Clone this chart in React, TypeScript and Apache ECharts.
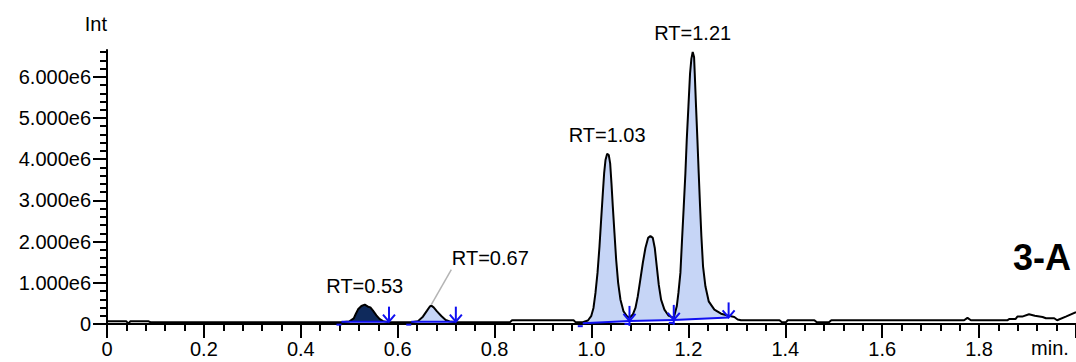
import React, { useEffect, useRef } from "react";
import * as echarts from "echarts";

// Intensity values are in units of 1e6 counts; time in minutes.
const traceLead: [number, number][] = [
  [0.0, 0.065], [0.04, 0.065], [0.044, 0.01], [0.048, 0.065], [0.086, 0.065], [0.09, 0.04], [0.3, 0.04], [0.484, 0.04],
];
const tracePeak053: [number, number][] = [
  [0.4998, 0.06], [0.5093, 0.138], [0.5134, 0.243], [0.5182, 0.356], [0.5251, 0.437], [0.532, 0.469],
  [0.5388, 0.42], [0.5436, 0.404], [0.549, 0.324], [0.556, 0.21], [0.5629, 0.12], [0.5698, 0.07], [0.58, 0.045],
];
const tracePeak067: [number, number][] = [
  [0.628, 0.045], [0.6419, 0.07], [0.652, 0.178], [0.6605, 0.324], [0.666, 0.42], [0.6694, 0.445],
  [0.6742, 0.404], [0.6811, 0.307], [0.69, 0.194], [0.699, 0.097], [0.7072, 0.06], [0.72, 0.045],
];
const traceMid: [number, number][] = [
  [0.832, 0.045], [0.836, 0.09], [0.963, 0.09], [0.967, 0.045], [0.982, 0.045],
];
const tracePeak103: [number, number][] = [
  [0.9925, 0.085], [0.9993, 0.19], [1.0041, 0.39], [1.0082, 0.755], [1.0124, 1.24], [1.0165, 1.885],
  [1.0199, 2.53], [1.0234, 3.18], [1.0261, 3.66], [1.0289, 3.98], [1.0323, 4.13], [1.0357, 4.1],
  [1.0385, 3.9], [1.0412, 3.42], [1.044, 2.85], [1.0474, 2.21], [1.0509, 1.56], [1.055, 1.0],
  [1.0598, 0.59], [1.066, 0.31], [1.0729, 0.19], [1.0784, 0.15],
];
const tracePeak112: [number, number][] = [
  [1.0852, 0.23], [1.0907, 0.39], [1.0955, 0.67], [1.1003, 1.04], [1.1059, 1.48], [1.1113, 1.845],
  [1.1168, 2.09], [1.1216, 2.135], [1.1265, 2.09], [1.1306, 1.845], [1.1347, 1.4], [1.1388, 0.955],
  [1.1436, 0.59], [1.1505, 0.35], [1.1588, 0.205], [1.1698, 0.15],
];
const tracePeak121: [number, number][] = [
  [1.176, 0.43], [1.1794, 0.755], [1.1835, 1.24], [1.1869, 2.05], [1.1904, 2.85], [1.1938, 3.66],
  [1.1966, 4.47], [1.2, 5.27], [1.2034, 6.08], [1.2062, 6.44], [1.2089, 6.6], [1.2117, 6.48],
  [1.2131, 6.08], [1.2158, 5.27], [1.2186, 4.47], [1.2213, 3.66], [1.2241, 2.85], [1.2268, 2.13],
  [1.2302, 1.4], [1.2351, 0.915], [1.2419, 0.55], [1.2536, 0.35], [1.2674, 0.25], [1.2811, 0.205],
  [1.2948, 0.17], [1.3017, 0.11], [1.3086, 0.09],
];
const traceTail: [number, number][] = [
  [1.388, 0.09], [1.393, 0.04], [1.401, 0.04], [1.405, 0.09], [1.46, 0.09], [1.465, 0.04], [1.49, 0.04],
  [1.495, 0.09], [1.769, 0.09], [1.776, 0.15], [1.783, 0.09], [1.858, 0.09], [1.862, 0.12], [1.875, 0.12],
  [1.879, 0.18], [1.889, 0.18], [1.903, 0.235], [1.915, 0.2], [1.931, 0.17], [1.938, 0.14], [1.955, 0.14],
  [1.961, 0.09], [1.979, 0.18], [2.0, 0.29],
];
const trace: [number, number][] = [
  ...traceLead, ...tracePeak053, ...tracePeak067, ...traceMid,
  ...tracePeak103, ...tracePeak112, ...tracePeak121, ...traceTail,
];

// Integration baselines: [tStart, vStart, tEnd, vEnd]
const integrationBaseline: [number, number, number, number][] = [
  [0.484, 0.057, 0.582, 0.057],
  [0.628, 0.057, 0.72, 0.057],
  [0.982, 0.02, 1.0784, 0.075],
  [1.0784, 0.075, 1.1698, 0.1],
  [1.1698, 0.1, 1.283, 0.16],
];

// Retention-time labels anchored at peak apexes
const rtLabels: [number, number, string][] = [
  [0.532, 0.469, "RT=0.53"],
  [1.0323, 4.13, "RT=1.03"],
  [1.2089, 6.6, "RT=1.21"],
];
const rtLeaderLabel: [number, number, string] = [0.6694, 0.445, "RT=0.67"];

const yMajorTicks = [0, 1, 2, 3, 4, 5, 6];
const yMinorTicks = [0.2, 0.4, 0.6, 0.8, 1.2, 1.4, 1.6, 1.8, 2.2, 2.4, 2.6, 2.8, 3.2, 3.4, 3.6, 3.8,
  4.2, 4.4, 4.6, 4.8, 5.2, 5.4, 5.6, 5.8, 6.2, 6.4, 6.6];

const FONT = "'Liberation Sans', Arial, Helvetica, sans-serif";
const BLUE = "#1010f0";
const LIGHT = "#c6d5f6";
const DARK = "#0f2a5c";

export default function App() {
  const ref = useRef<HTMLDivElement>(null);
  useEffect(() => {
    if (!ref.current) return;
    const chart = echarts.init(ref.current, undefined, { renderer: "svg" });
    const textStyle = { fontSize: 20, fontFamily: FONT, fill: "#000", align: "center", verticalAlign: "middle" };
    const option: any = {
      animation: false,
      backgroundColor: "#fff",
      grid: { left: 107, right: 0, top: 50, bottom: 38, containLabel: false },
      xAxis: {
        type: "value",
        min: 0,
        max: 2.0,
        interval: 0.2,
        splitLine: { show: false },
        axisLine: { lineStyle: { color: "#000", width: 2 } },
        axisTick: { length: 14, lineStyle: { color: "#000", width: 2 } },
        minorTick: { show: true, splitNumber: 5, length: 7, lineStyle: { color: "#000", width: 2 } },
        minorSplitLine: { show: false },
        axisLabel: {
          color: "#000",
          fontSize: 20,
          fontFamily: FONT,
          margin: 15,
          showMaxLabel: false,
          formatter: (v: number) => (v === 0 ? "0" : v.toFixed(1)),
        },
      },
      yAxis: [
        {
          type: "value",
          min: 0,
          max: 6.65,
          interval: 1,
          name: "Int",
          nameLocation: "end",
          nameGap: 16,
          nameTextStyle: { color: "#000", fontSize: 20, fontFamily: FONT, align: "right" },
          splitLine: { show: false },
          axisLine: { show: true, lineStyle: { color: "#000", width: 2 } },
          axisTick: { show: true, length: 14, customValues: yMajorTicks, lineStyle: { color: "#000", width: 2 } },
          axisLabel: {
            color: "#000",
            fontSize: 20,
            fontFamily: FONT,
            margin: 16,
            customValues: yMajorTicks,
            formatter: (v: number) => (v === 0 ? "0" : v.toFixed(3) + "e6"),
          },
        },
        {
          type: "value",
          min: 0,
          max: 6.65,
          position: "left",
          splitLine: { show: false },
          axisLine: { show: false },
          axisLabel: { show: false },
          axisTick: { show: true, length: 7, customValues: yMinorTicks, lineStyle: { color: "#000", width: 2 } },
        },
      ],
      graphic: [
        {
          type: "text",
          x: 1050,
          y: 348,
          style: { text: "min.", ...textStyle },
        },
        {
          type: "text",
          x: 1042,
          y: 257,
          style: { ...textStyle, text: "3-A", fontSize: 36, fontWeight: "bold" },
        },
      ],
      series: [
        {
          type: "custom",
          name: "fills",
          z: 1,
          silent: true,
          encode: { x: [0, 2], y: [1, 3] },
          data: integrationBaseline,
          renderItem: (params: any, api: any) => {
            const [t0, b0, t1, b1] = integrationBaseline[params.dataIndex];
            const pts = trace.filter((p) => p[0] >= t0 && p[0] <= t1).map((p) => api.coord(p));
            const poly = [api.coord([t0, b0]), ...pts, api.coord([t1, b1])];
            return {
              type: "polygon",
              shape: { points: poly },
              style: { fill: params.dataIndex === 0 ? DARK : LIGHT, stroke: null },
            };
          },
        },
        {
          type: "line",
          name: "trace",
          z: 3,
          data: trace,
          showSymbol: false,
          smooth: false,
          lineStyle: { color: "#000", width: 2 },
          silent: true,
        },
        {
          type: "custom",
          name: "integration",
          z: 4,
          silent: true,
          encode: { x: [0, 2], y: [1, 3] },
          data: integrationBaseline,
          renderItem: (params: any, api: any) => {
            const i = params.dataIndex;
            const [t0, b0, t1, b1] = integrationBaseline[i];
            const s = api.coord([t0, b0]);
            const e = api.coord([t1, b1]);
            const st = { stroke: BLUE, lineWidth: 2, fill: null };
            const shared = i + 1 < integrationBaseline.length && integrationBaseline[i + 1][0] === t1;
            return {
              type: "group",
              children: [
                { type: "line", shape: { x1: s[0], y1: s[1], x2: e[0], y2: e[1] }, style: st },
                { type: "line", shape: { x1: e[0], y1: e[1] - 15, x2: e[0], y2: e[1] + (shared ? 5 : 0) }, style: st },
                { type: "polyline", shape: { points: [[e[0] - 6, e[1] - 7], [e[0], e[1]], [e[0] + 6, e[1] - 7]] }, style: st },
                { type: "line", shape: { x1: s[0] - 5, y1: s[1] + 3, x2: s[0], y2: s[1] + 3 }, style: st },
              ],
            };
          },
        },
        {
          type: "custom",
          name: "rt",
          z: 5,
          silent: true,
          data: rtLabels.map((d) => [d[0], d[1]]),
          renderItem: (params: any, api: any) => {
            const d = rtLabels[params.dataIndex];
            const p = api.coord([d[0], d[1]]);
            return { type: "text", x: p[0], y: p[1] - 19, style: { ...textStyle, text: d[2] } };
          },
        },
        {
          type: "custom",
          name: "rtLeader",
          z: 5,
          silent: true,
          data: [[rtLeaderLabel[0], rtLeaderLabel[1]]],
          renderItem: (params: any, api: any) => {
            const p = api.coord([rtLeaderLabel[0], rtLeaderLabel[1]]);
            return {
              type: "group",
              children: [
                { type: "line", shape: { x1: p[0], y1: p[1] - 1, x2: p[0] + 20, y2: p[1] - 36 }, style: { stroke: "#b4b4b4", lineWidth: 1.5 } },
                { type: "text", x: p[0] + 59, y: p[1] - 48, style: { ...textStyle, text: rtLeaderLabel[2] } },
              ],
            };
          },
        },
      ],
    };
    chart.setOption(option);
    return () => chart.dispose();
  }, []);
  return <div ref={ref} style={{ position: "absolute", left: 0, top: 0, width: 1076, height: 362 }} />;
}
